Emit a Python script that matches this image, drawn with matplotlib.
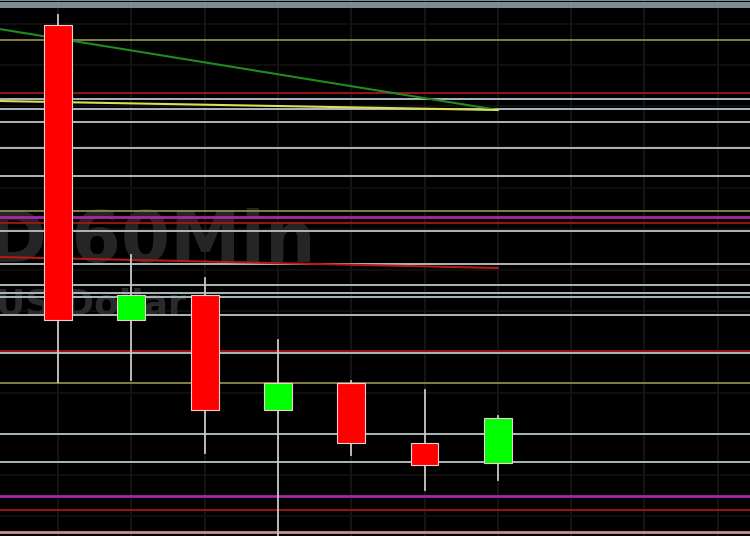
import numpy as np
import matplotlib.pyplot as plt
from matplotlib.patches import Rectangle

# hourly candles (price)
opens = [1.3475, 1.3180, 1.3205, 1.3090, 1.3117, 1.3057, 1.3037]
highs = [1.3485, 1.3245, 1.3222, 1.3160, 1.3119, 1.3110, 1.3084]
lows = [1.3118, 1.3120, 1.3047, 1.2955, 1.3045, 1.3010, 1.3020]
closes = [1.3180, 1.3205, 1.3090, 1.3117, 1.3057, 1.3035, 1.3082]

# horizontal levels drawn on the chart
grey_levels = [1.3401, 1.3391, 1.3378, 1.3352, 1.3324, 1.3269, 1.3236,
               1.3215, 1.3207, 1.3203, 1.3185, 1.3147, 1.3066, 1.3038]
olive_levels = [1.3460, 1.3289, 1.3117]
red_levels = [1.3407, 1.3277, 1.3149, 1.2990]
magenta_levels = [1.3283, 1.3004]
pink_levels = [1.2968]
top_levels = [1.3500, 1.34975, 1.3495, 1.34935]

# trend lines: (x0, y0, x1, y1) in candle index / price
green_trend = [-0.8, 1.3471, 6, 1.3390]
yellow_trend = [-0.8, 1.3399, 6, 1.3390]
red_trend = [-0.8, 1.3243, 6, 1.3232]

fig = plt.figure(figsize=(7.5, 5.36), dpi=100, facecolor='black')
ax = fig.add_axes([0, 0, 1, 1])
ax.set_facecolor('#020202')
ax.set_xlim(-0.791, 9.44)
ax.set_ylim(1.2964, 1.3500)

# faint grid
for gx in range(0, 10):
    ax.axvline(gx, color='#191919', lw=1.2, zorder=0)
for gy in np.arange(1.3476, 1.2960, -0.0041):
    ax.axhline(gy, color='#121212', lw=1.2, zorder=0)

# watermark
ax.text(-0.96, 1.3238, 'D 60Min', color='#252525', fontsize=51,
        fontweight='bold', ha='left', va='baseline', zorder=1)
ax.text(-0.84, 1.31855, 'US Dollar', color='#2a2a2a', fontsize=26,
        fontweight='bold', ha='left', va='baseline', zorder=1)

for lv in top_levels:
    ax.axhline(lv, color='#8a9ca6', lw=1.3, zorder=2)
for lv in grey_levels:
    ax.axhline(lv, color='#aab8bc', lw=1.4, zorder=2)
for lv in olive_levels:
    ax.axhline(lv, color='#8c8a45', lw=1.3, zorder=2)
for lv in red_levels:
    ax.axhline(lv, color='#a81515', lw=1.3, zorder=2)
for lv in magenta_levels:
    ax.axhline(lv, color='#a828a8', lw=2.0, zorder=2)
for lv in pink_levels:
    ax.axhline(lv, color='#c89090', lw=2.0, zorder=2)

for tl, col in [(green_trend, '#1f8c1f'), (yellow_trend, '#dede55'),
                (red_trend, '#b81818')]:
    ax.plot([tl[0], tl[2]], [tl[1], tl[3]], color=col, lw=1.5, zorder=3)

# candles
w = 0.38
for i in range(len(opens)):
    o, h, l, c = opens[i], highs[i], lows[i], closes[i]
    col = '#00ff00' if c > o else '#ff0000'
    ax.plot([i, i], [l, h], color='#c8c8c8', lw=1.3, zorder=4)
    ax.add_patch(Rectangle((i - w / 2, min(o, c)), w, abs(c - o),
                           facecolor=col, edgecolor='#f0d0d0', lw=0.8, zorder=5))

ax.axis('off')
fig.savefig('out.png', dpi=100, facecolor='black')
